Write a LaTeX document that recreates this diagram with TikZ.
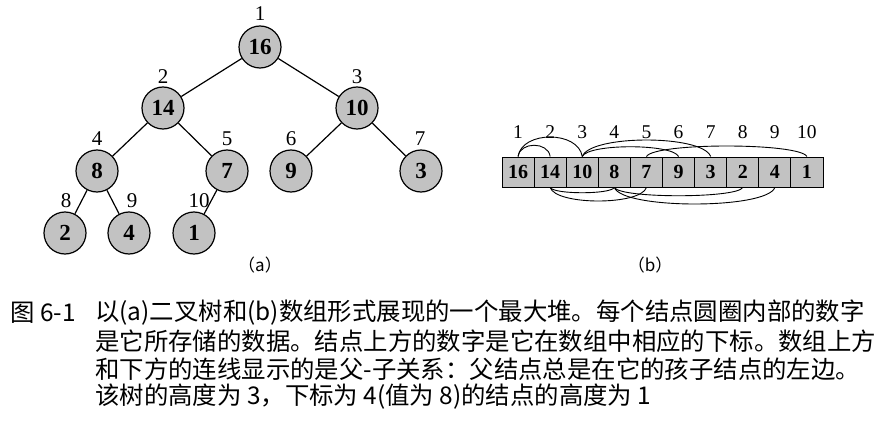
\documentclass[tikz,border=0pt]{standalone}
\usepackage{fontspec}
\setmainfont{Liberation Serif}
\newfontfamily\cjk{Noto Sans CJK SC}
\begin{document}
\begin{tikzpicture}[x=1pt,y=-1pt,
  hnode/.style={circle,draw,line width=1.2pt,fill=black!24,minimum size=42pt,inner sep=0pt,font=\fontsize{23}{23}\selectfont\bfseries},
  idx/.style={font=\fontsize{21}{21}\selectfont,inner sep=0pt},
  cellbox/.style={draw,line width=1pt,fill=black!24,minimum width=32.1pt,minimum height=30pt,inner sep=0pt,font=\fontsize{20}{20}\selectfont\bfseries},
  aidx/.style={font=\fontsize{19.5}{19.5}\selectfont,inner sep=0pt},
  tedge/.style={line width=1.2pt},
  parc/.style={line width=0.9pt},
  captext/.style={font=\cjk\fontsize{24.4}{24.4}\selectfont,inner sep=0pt,anchor=west}
]
\useasboundingbox (0,0) rectangle (875,425);
% tree
\node[hnode] (n1) at (260,47) {16};
\node[hnode] (n2) at (163,108) {14};
\node[hnode] (n3) at (357,108) {10};
\node[hnode] (n4) at (97,171) {8};
\node[hnode] (n5) at (227,171) {7};
\node[hnode] (n6) at (291,171) {9};
\node[hnode] (n7) at (421,171) {3};
\node[hnode] (n8) at (65,233) {2};
\node[hnode] (n9) at (129,233) {4};
\node[hnode] (n10) at (194,233) {1};
\draw[tedge] (n1) -- (n2);
\draw[tedge] (n1) -- (n3);
\draw[tedge] (n2) -- (n4);
\draw[tedge] (n2) -- (n5);
\draw[tedge] (n3) -- (n6);
\draw[tedge] (n3) -- (n7);
\draw[tedge] (n4) -- (n8);
\draw[tedge] (n4) -- (n9);
\draw[tedge] (n5) -- (n10);
\node[idx] (l1) at (260,14) {1};
\node[idx] (l2) at (163,77) {2};
\node[idx] (l3) at (357,77) {3};
\node[idx] (l4) at (97,139) {4};
\node[idx] (l5) at (227,139) {5};
\node[idx] (l6) at (291,139) {6};
\node[idx] (l7) at (420,139) {7};
\node[idx] (l8) at (66,201) {8};
\node[idx] (l9) at (132,201) {9};
\node[idx] (l10) at (199,201) {10};
\node[font=\cjk\fontsize{17}{17}\selectfont,inner sep=0pt] (capa) at (260,265) {（a）};
% array
\foreach \i/\v in {1/16,2/14,3/10,4/8,5/7,6/9,7/3,8/2,9/4,10/1}{
  \node[cellbox] (c\i) at ({502+32.1*(\i-0.5)},172) {\v};
  \node[aidx] (a\i) at ({502+32.1*(\i-0.5)},132) {\i};
}
\draw[parc] (c1.north) .. controls +(2,-15) and +(-2,-15) .. (c2.north);
\draw[parc] (c1.north) .. controls +(4,-26) and +(-4,-26) .. (c3.north);
\draw[parc] (c3.north) .. controls +(6,-13) and +(-6,-13) .. (c6.north);
\draw[parc] (c3.north) .. controls +(8,-22) and +(-8,-22) .. (c7.north);
\draw[parc] (c5.north) .. controls +(8,-14) and +(-8,-14) .. (c10.north);
\draw[parc] (c2.south) .. controls +(4,7) and +(-4,7) .. (c4.south);
\draw[parc] (c2.south) .. controls +(6,18) and +(-6,18) .. (c5.south);
\draw[parc] (c4.south) .. controls +(6,11) and +(-6,11) .. (c8.south);
\draw[parc] (c4.south) .. controls +(8,22) and +(-8,22) .. (c9.south);
\node[font=\cjk\fontsize{17}{17}\selectfont,inner sep=0pt] (capb) at (650,265) {（b）};
% caption
\node[captext] (fig) at (10,313) {图 6-1};
\node[captext] (t1) at (95,313) {以(a)二叉树和(b)数组形式展现的一个最大堆。每个结点圆圈内部的数字};
\node[captext] (t2) at (95,341) {是它所存储的数据。结点上方的数字是它在数组中相应的下标。数组上方};
\node[captext] (t3) at (95,369) {和下方的连线显示的是父-子关系：父结点总是在它的孩子结点的左边。};
\node[captext] (t4) at (95,397) {该树的高度为 3，下标为 4(值为 8)的结点的高度为 1};
\end{tikzpicture}
\end{document}
